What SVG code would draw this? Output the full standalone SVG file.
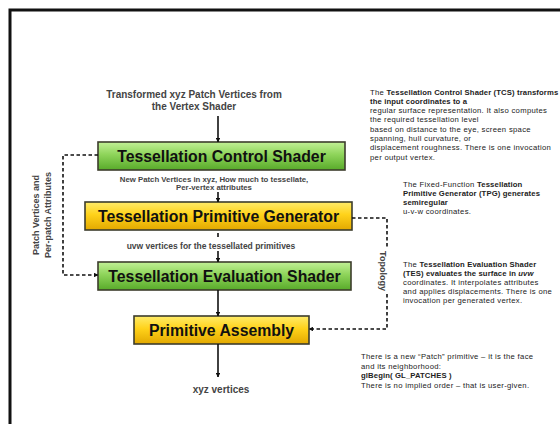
<svg xmlns="http://www.w3.org/2000/svg" width="560" height="424" viewBox="0 0 560 424">
<style>
.box{stroke:#3c3c2c;stroke-width:1.6}
.bt{font-family:"Liberation Sans",Arial,sans-serif;font-weight:bold;font-size:15.8px;fill:#111;text-anchor:middle}
.lbl{font-family:"Liberation Sans",Arial,sans-serif;font-weight:bold;fill:#444;text-anchor:middle}
.note{font-family:"Liberation Sans",Arial,sans-serif;font-size:7.7px;fill:#222;letter-spacing:0.3px}
.b{font-weight:bold;letter-spacing:0.12px}
.arr{stroke:#111;stroke-width:1.6;fill:none}
.dash{stroke:#111;stroke-width:1.6;fill:none;stroke-dasharray:3.5 2.5}
</style>
<defs>
<linearGradient id="gG" x1="0" y1="0" x2="0" y2="1">
<stop offset="0" stop-color="#c2f096"/><stop offset="0.45" stop-color="#8ed45a"/><stop offset="1" stop-color="#58aa2a"/>
</linearGradient>
<linearGradient id="gY" x1="0" y1="0" x2="0" y2="1">
<stop offset="0" stop-color="#ffec6a"/><stop offset="0.45" stop-color="#ffd21a"/><stop offset="1" stop-color="#e2a800"/>
</linearGradient>
<marker id="ah" viewBox="0 0 10 10" refX="9" refY="5" markerWidth="4.5" markerHeight="4.5" orient="auto-start-reverse" markerUnits="userSpaceOnUse">
<path d="M0,0 L10,5 L0,10 z" fill="#111"/>
</marker>
</defs>
<rect width="560" height="424" fill="#fff"/>
<path d="M10,424 V10 H560" fill="none" stroke="#111" stroke-width="3"/>

<g id="title">
<text class="lbl" x="194" y="98" font-size="10">Transformed xyz Patch Vertices from</text>
<text class="lbl" x="194" y="110" font-size="10">the Vertex Shader</text>
</g>

<g id="tcs">
<rect class="box" x="98" y="142" width="247" height="28" fill="url(#gG)"/>
<text class="bt" x="221.5" y="161.8">Tessellation Control Shader</text>
</g>
<g id="tpg">
<rect class="box" x="85" y="202" width="267" height="28" fill="url(#gY)"/>
<text class="bt" x="218.5" y="221.8">Tessellation Primitive Generator</text>
</g>
<g id="tes">
<rect class="box" x="98" y="262" width="253" height="28" fill="url(#gG)"/>
<text class="bt" x="224.5" y="281.8">Tessellation Evaluation Shader</text>
</g>
<g id="pa">
<rect class="box" x="134" y="316" width="175" height="28" fill="url(#gY)"/>
<text class="bt" x="221.5" y="335.8">Primitive Assembly</text>
</g>

<g id="labels">
<text class="lbl" x="214" y="181.5" font-size="7.8">New Patch Vertices in xyz, How much to tessellate,</text>
<text class="lbl" x="214" y="190" font-size="7.8">Per-vertex attributes</text>
<text class="lbl" x="211" y="248.5" font-size="8.5">uvw vertices for the tessellated primitives</text>
<text class="lbl" x="221" y="393" font-size="10">xyz vertices</text>
<text class="lbl" font-size="9" transform="translate(39,215) rotate(-90)">Patch Vertices and</text>
<text class="lbl" font-size="9" transform="translate(51,215) rotate(-90)">Per-patch Attributes</text>
<text class="lbl" font-size="9" transform="translate(380,271) rotate(90)">Topology</text>
</g>

<g id="connectors">
<line class="arr" x1="218" y1="116" x2="218" y2="142" marker-end="url(#ah)"/>
<line class="arr" x1="218" y1="192" x2="218" y2="202" marker-end="url(#ah)"/>
<line class="arr" x1="218" y1="233" x2="218" y2="237"/>
<line class="arr" x1="218" y1="251" x2="218" y2="262" marker-end="url(#ah)"/>
<line class="arr" x1="218" y1="290" x2="218" y2="316" marker-end="url(#ah)"/>
<line class="arr" x1="218" y1="344" x2="218" y2="377" marker-end="url(#ah)"/>
<path class="dash" d="M98,155 H63 V275 H98" marker-end="url(#ah)"/>
<path class="dash" d="M352,218 H387 V248"/>
<path class="dash" d="M387,294 V329 H309" marker-end="url(#ah)"/>
</g>

<g id="notes">
<text class="note"><tspan x="370" y="94.5">The <tspan class="b">Tessellation Control Shader (TCS) transforms</tspan></tspan><tspan class="b" x="370" y="103.8">the input coordinates to a</tspan><tspan x="370" y="113.1">regular surface representation. It also computes</tspan><tspan x="370" y="122.4">the required tessellation level</tspan><tspan x="370" y="131.7">based on distance to the eye, screen space</tspan><tspan x="370" y="141">spanning, hull curvature, or</tspan><tspan x="370" y="150.3">displacement roughness. There is one invocation</tspan><tspan x="370" y="159.6">per output vertex.</tspan></text>
<text class="note"><tspan x="403" y="187">The Fixed-Function <tspan class="b">Tessellation</tspan></tspan><tspan class="b" x="403" y="196">Primitive Generator (TPG) generates</tspan><tspan class="b" x="403" y="205">semiregular</tspan><tspan x="403" y="214">u-v-w coordinates.</tspan></text>
<text class="note"><tspan x="403" y="267">The <tspan class="b">Tessellation Evaluation Shader</tspan></tspan><tspan class="b" x="403" y="276">(TES) evaluates the surface in <tspan font-style="italic">uvw</tspan></tspan><tspan x="403" y="285">coordinates. It interpolates attributes</tspan><tspan x="403" y="294">and applies displacements. There is one</tspan><tspan x="403" y="303">invocation per generated vertex.</tspan></text>
<text class="note"><tspan x="361" y="359">There is a new “Patch” primitive – it is the face</tspan><tspan x="361" y="368.5">and its neighborhood:</tspan><tspan class="b" x="361" y="378">glBegin( GL_PATCHES )</tspan><tspan x="361" y="387.5">There is no implied order – that is user-given.</tspan></text>
</g>
</svg>
